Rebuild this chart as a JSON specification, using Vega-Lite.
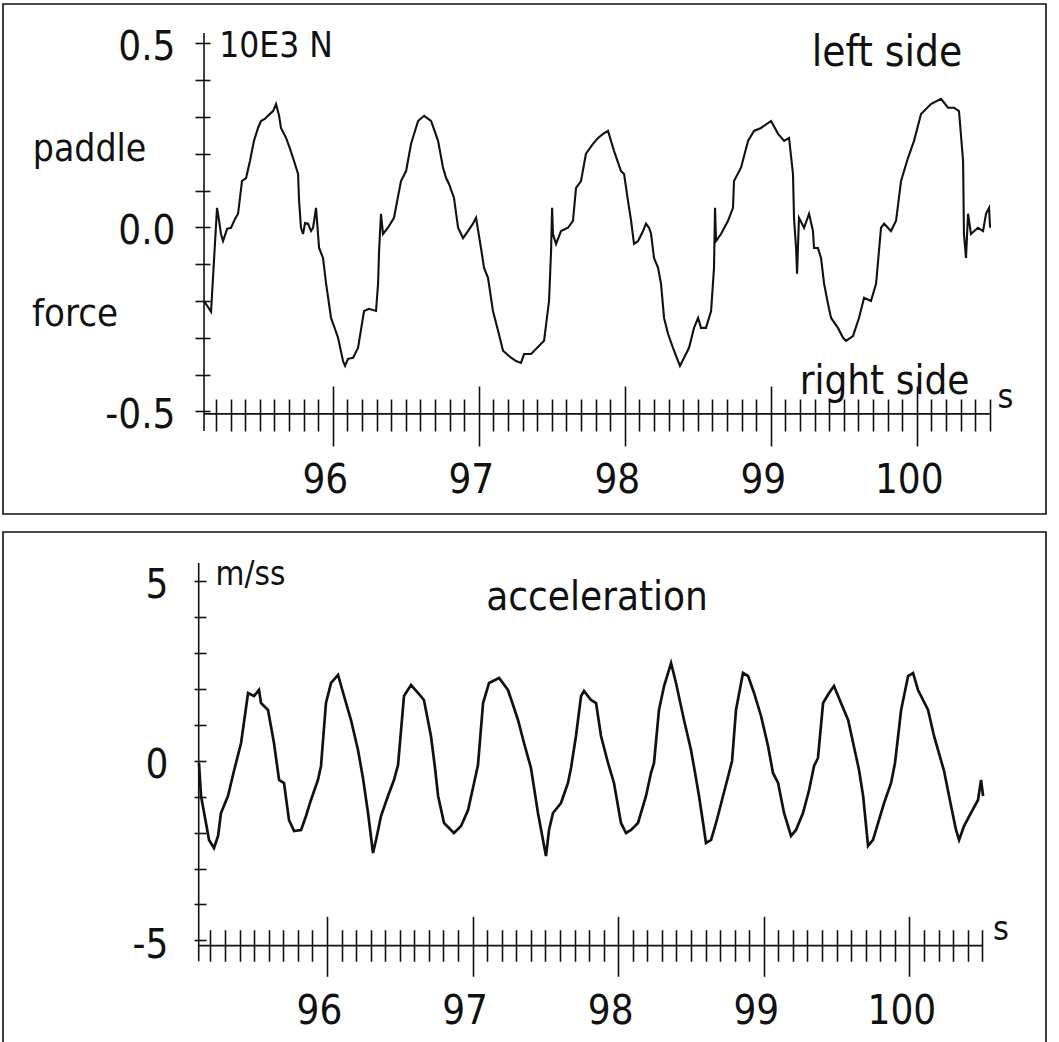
{
  "$schema": "https://vega.github.io/schema/vega-lite/v6.json",
  "padding": {"left": 2, "top": 3, "right": 0, "bottom": 0},
  "background": "white",
  "spacing": 16,
  "config": {
    "view": {"stroke": "#111", "strokeWidth": 1.6},
    "axis": {"grid": false, "title": null, "domain": false, "tickColor": "#111", "tickWidth": 1.6, "labelColor": "#111", "labelFont": "DejaVu Sans Condensed", "labelFontWeight": "normal", "labelOverlap": false, "labelFlush": false, "labelBound": false},
    "text": {"font": "DejaVu Sans Condensed", "color": "#111"}
  },
  "vconcat": [
    {
      "width": 1043, "height": 510,
      "data": {"values": [
        {"t":95.118,"f":-0.200},{"t":95.166,"f":-0.229},{"t":95.186,"f":-0.091},{"t":95.207,"f":0.053},{"t":95.221,"f":0.018},{"t":95.234,"f":-0.018},{"t":95.248,"f":-0.037},{"t":95.276,"f":-0.004},{"t":95.303,"f":-0.001},{"t":95.330,"f":0.023},{"t":95.351,"f":0.037},{"t":95.378,"f":0.126},{"t":95.406,"f":0.134},{"t":95.433,"f":0.181},{"t":95.460,"f":0.235},{"t":95.488,"f":0.270},{"t":95.508,"f":0.289},{"t":95.536,"f":0.295},{"t":95.556,"f":0.303},{"t":95.577,"f":0.311},{"t":95.591,"f":0.316},{"t":95.611,"f":0.335},{"t":95.632,"f":0.303},{"t":95.645,"f":0.270},{"t":95.680,"f":0.243},{"t":95.707,"f":0.213},{"t":95.734,"f":0.181},{"t":95.762,"f":0.145},{"t":95.769,"f":0.072},{"t":95.782,"f":-0.001},{"t":95.796,"f":-0.018},{"t":95.810,"f":0.012},{"t":95.830,"f":0.010},{"t":95.851,"f":-0.010},{"t":95.865,"f":-0.001},{"t":95.885,"f":0.053},{"t":95.906,"f":-0.056},{"t":95.933,"f":-0.083},{"t":95.954,"f":-0.153},{"t":95.988,"f":-0.246},{"t":96.015,"f":-0.276},{"t":96.036,"f":-0.300},{"t":96.070,"f":-0.363},{"t":96.084,"f":-0.376},{"t":96.104,"f":-0.357},{"t":96.139,"f":-0.354},{"t":96.173,"f":-0.327},{"t":96.214,"f":-0.227},{"t":96.248,"f":-0.221},{"t":96.296,"f":-0.227},{"t":96.310,"f":-0.153},{"t":96.317,"f":-0.064},{"t":96.330,"f":0.037},{"t":96.344,"f":-0.018},{"t":96.378,"f":-0.001},{"t":96.419,"f":0.026},{"t":96.467,"f":0.126},{"t":96.502,"f":0.153},{"t":96.536,"f":0.227},{"t":96.584,"f":0.289},{"t":96.625,"f":0.303},{"t":96.673,"f":0.289},{"t":96.721,"f":0.235},{"t":96.755,"f":0.162},{"t":96.776,"f":0.134},{"t":96.796,"f":0.118},{"t":96.830,"f":0.080},{"t":96.858,"f":-0.001},{"t":96.892,"f":-0.029},{"t":96.926,"f":-0.010},{"t":96.960,"f":0.010},{"t":96.981,"f":0.026},{"t":97.015,"f":-0.056},{"t":97.036,"f":-0.110},{"t":97.063,"f":-0.137},{"t":97.097,"f":-0.227},{"t":97.132,"f":-0.281},{"t":97.166,"f":-0.335},{"t":97.221,"f":-0.354},{"t":97.255,"f":-0.363},{"t":97.289,"f":-0.368},{"t":97.310,"f":-0.344},{"t":97.358,"f":-0.344},{"t":97.447,"f":-0.308},{"t":97.481,"f":-0.200},{"t":97.495,"f":-0.064},{"t":97.502,"f":0.053},{"t":97.508,"f":-0.018},{"t":97.529,"f":-0.045},{"t":97.563,"f":-0.010},{"t":97.611,"f":-0.001},{"t":97.645,"f":0.018},{"t":97.666,"f":0.107},{"t":97.700,"f":0.126},{"t":97.734,"f":0.200},{"t":97.782,"f":0.227},{"t":97.817,"f":0.243},{"t":97.851,"f":0.254},{"t":97.885,"f":0.262},{"t":97.926,"f":0.208},{"t":97.974,"f":0.153},{"t":97.995,"f":0.145},{"t":98.022,"f":0.072},{"t":98.043,"f":0.018},{"t":98.063,"f":-0.045},{"t":98.091,"f":-0.037},{"t":98.125,"f":-0.010},{"t":98.145,"f":0.010},{"t":98.166,"f":-0.001},{"t":98.180,"f":-0.018},{"t":98.200,"f":-0.083},{"t":98.228,"f":-0.110},{"t":98.248,"f":-0.153},{"t":98.269,"f":-0.246},{"t":98.296,"f":-0.289},{"t":98.330,"f":-0.327},{"t":98.365,"f":-0.363},{"t":98.378,"f":-0.376},{"t":98.406,"f":-0.354},{"t":98.440,"f":-0.327},{"t":98.474,"f":-0.273},{"t":98.502,"f":-0.246},{"t":98.522,"f":-0.273},{"t":98.556,"f":-0.273},{"t":98.591,"f":-0.227},{"t":98.611,"f":-0.110},{"t":98.618,"f":0.053},{"t":98.625,"f":-0.037},{"t":98.659,"f":-0.018},{"t":98.707,"f":0.018},{"t":98.741,"f":0.053},{"t":98.748,"f":0.126},{"t":98.796,"f":0.162},{"t":98.844,"f":0.235},{"t":98.885,"f":0.262},{"t":98.933,"f":0.270},{"t":99.002,"f":0.289},{"t":99.050,"f":0.254},{"t":99.091,"f":0.235},{"t":99.125,"f":0.243},{"t":99.152,"f":0.145},{"t":99.159,"f":0.026},{"t":99.173,"f":-0.056},{"t":99.180,"f":-0.126},{"t":99.193,"f":0.026},{"t":99.228,"f":-0.001},{"t":99.262,"f":0.037},{"t":99.289,"f":-0.010},{"t":99.296,"f":-0.056},{"t":99.323,"f":-0.056},{"t":99.344,"f":-0.083},{"t":99.365,"f":-0.153},{"t":99.392,"f":-0.208},{"t":99.413,"f":-0.246},{"t":99.460,"f":-0.273},{"t":99.495,"f":-0.300},{"t":99.515,"f":-0.308},{"t":99.563,"f":-0.295},{"t":99.604,"f":-0.246},{"t":99.639,"f":-0.191},{"t":99.686,"f":-0.200},{"t":99.721,"f":-0.153},{"t":99.741,"f":-0.064},{"t":99.755,"f":-0.001},{"t":99.776,"f":0.010},{"t":99.823,"f":-0.010},{"t":99.858,"f":0.018},{"t":99.892,"f":0.126},{"t":99.940,"f":0.189},{"t":99.981,"f":0.235},{"t":100.029,"f":0.308},{"t":100.097,"f":0.335},{"t":100.166,"f":0.349},{"t":100.214,"f":0.325},{"t":100.255,"f":0.325},{"t":100.289,"f":0.316},{"t":100.317,"f":0.181},{"t":100.323,"f":-0.018},{"t":100.337,"f":-0.083},{"t":100.351,"f":0.037},{"t":100.371,"f":-0.018},{"t":100.419,"f":-0.001},{"t":100.454,"f":-0.010},{"t":100.474,"f":0.037},{"t":100.495,"f":0.053},{"t":100.502,"f":-0.001}
      ]},
      "layer": [
        {
          "mark": {"type": "line", "color": "#111", "strokeWidth": 2.1},
          "encoding": {
            "x": {"field": "t", "type": "quantitative",
                  "scale": {"domain": [93.741, 100.885], "nice": false, "zero": false},
                  "axis": {"orient": "bottom", "values": [96, 97, 98, 99, 100], "format": "d", "tickSize": 60, "offset": -128, "labelPadding": 14, "labelFontSize": 40, "labelOffset": -8}},
            "y": {"field": "f", "type": "quantitative",
                  "scale": {"domain": [-0.7784, 0.6067], "nice": false, "zero": false},
                  "axis": {"orient": "left", "values": [-0.5, -0.4, -0.3, -0.2, -0.1, 0, 0.1, 0.2, 0.3, 0.4, 0.5], "tickSize": 15, "offset": -207, "labelPadding": 20, "labelFontSize": 40, "labelOffset": 4,
                           "labelExpr": "datum.value == 0.5 ? '0.5' : datum.value == 0 ? '0.0' : datum.value == -0.5 ? '-0.5' : ''"}}
          }
        },
        {
          "data": {"values": [{}]},
          "mark": {"type": "rule", "color": "#111", "strokeWidth": 1.6},
          "encoding": {
            "x": {"datum": 95.118, "axis": {"orient": "bottom", "values": [95.2,95.3,95.4,95.5,95.6,95.7,95.8,95.9,96.1,96.2,96.3,96.4,96.5,96.6,96.7,96.8,96.9,97.1,97.2,97.3,97.4,97.5,97.6,97.7,97.8,97.9,98.1,98.2,98.3,98.4,98.5,98.6,98.7,98.8,98.9,99.1,99.2,99.3,99.4,99.5,99.6,99.7,99.8,99.9,100.1,100.2,100.3,100.4,100.5], "tickSize": 32, "offset": -115, "labels": false}},
            "x2": {"datum": 100.5},
            "y": {"datum": -0.5065, "axis": null}
          }
        },
        {
          "data": {"values": [{}]},
          "mark": {"type": "rule", "color": "#111", "strokeWidth": 1.6},
          "encoding": {
            "x": {"datum": 95.118, "axis": null},
            "y": {"datum": -0.553, "axis": null},
            "y2": {"datum": 0.528}
          }
        },
        {"data": {"values": [{}]}, "mark": {"type": "text", "fontSize": 35, "align": "center", "baseline": "alphabetic"},
         "encoding": {"x": {"datum": 95.611, "axis": null}, "y": {"datum": 0.463, "axis": null}, "text": {"value": "10E3 N"}}},
        {"data": {"values": [{}]}, "mark": {"type": "text", "fontSize": 37, "align": "center", "baseline": "alphabetic"},
         "encoding": {"x": {"datum": 94.334, "axis": null}, "y": {"datum": 0.181, "axis": null}, "text": {"value": "paddle"}}},
        {"data": {"values": [{}]}, "mark": {"type": "text", "fontSize": 38, "align": "center", "baseline": "alphabetic"},
         "encoding": {"x": {"datum": 94.234, "axis": null}, "y": {"datum": -0.2675, "axis": null}, "text": {"value": "force"}}},
        {"data": {"values": [{}]}, "mark": {"type": "text", "fontSize": 42, "align": "center", "baseline": "alphabetic"},
         "encoding": {"x": {"datum": 99.796, "axis": null}, "y": {"datum": 0.4386, "axis": null}, "text": {"value": "left side"}}},
        {"data": {"values": [{}]}, "mark": {"type": "text", "fontSize": 40, "align": "center", "baseline": "alphabetic"},
         "encoding": {"x": {"datum": 99.779, "axis": null}, "y": {"datum": -0.4514, "axis": null}, "text": {"value": "right side"}}},
        {"data": {"values": [{}]}, "mark": {"type": "text", "fontSize": 34, "align": "center", "baseline": "alphabetic"},
         "encoding": {"x": {"datum": 100.608, "axis": null}, "y": {"datum": -0.4894, "axis": null}, "text": {"value": "s"}}}
      ],
      "resolve": {"axis": {"x": "independent", "y": "independent"}}
    },
    {
      "width": 1043, "height": 511,
      "data": {"values": [
        {"t":95.121,"a":-0.064},{"t":95.135,"a":-0.982},{"t":95.169,"a":-1.733},{"t":95.190,"a":-2.206},{"t":95.224,"a":-2.429},{"t":95.252,"a":-2.095},{"t":95.272,"a":-1.455},{"t":95.320,"a":-0.982},{"t":95.361,"a":-0.287},{"t":95.410,"a":0.492},{"t":95.458,"a":1.884},{"t":95.499,"a":1.800},{"t":95.533,"a":1.967},{"t":95.547,"a":1.605},{"t":95.595,"a":1.411},{"t":95.636,"a":0.492},{"t":95.671,"a":-0.537},{"t":95.705,"a":-0.620},{"t":95.739,"a":-1.650},{"t":95.774,"a":-1.956},{"t":95.822,"a":-1.928},{"t":95.856,"a":-1.539},{"t":95.890,"a":-1.093},{"t":95.938,"a":-0.537},{"t":95.959,"a":-0.147},{"t":95.993,"a":1.605},{"t":96.028,"a":2.162},{"t":96.076,"a":2.385},{"t":96.117,"a":1.800},{"t":96.165,"a":1.132},{"t":96.213,"a":0.298},{"t":96.247,"a":-0.481},{"t":96.282,"a":-1.455},{"t":96.316,"a":-2.568},{"t":96.337,"a":-2.206},{"t":96.371,"a":-1.539},{"t":96.419,"a":-0.982},{"t":96.460,"a":-0.537},{"t":96.488,"a":-0.120},{"t":96.529,"a":1.800},{"t":96.577,"a":2.106},{"t":96.625,"a":1.884},{"t":96.666,"a":1.689},{"t":96.714,"a":0.687},{"t":96.742,"a":-0.203},{"t":96.763,"a":-0.982},{"t":96.804,"a":-1.733},{"t":96.872,"a":-2.012},{"t":96.921,"a":-1.817},{"t":96.969,"a":-1.372},{"t":97.010,"a":-0.620},{"t":97.037,"a":-0.120},{"t":97.072,"a":1.605},{"t":97.113,"a":2.162},{"t":97.182,"a":2.301},{"t":97.243,"a":1.967},{"t":97.312,"a":1.132},{"t":97.353,"a":0.492},{"t":97.401,"a":-0.203},{"t":97.449,"a":-1.455},{"t":97.504,"a":-2.652},{"t":97.525,"a":-1.928},{"t":97.552,"a":-1.455},{"t":97.607,"a":-1.177},{"t":97.655,"a":-0.620},{"t":97.676,"a":-0.203},{"t":97.710,"a":0.687},{"t":97.745,"a":1.800},{"t":97.765,"a":1.939},{"t":97.813,"a":1.689},{"t":97.848,"a":1.605},{"t":97.882,"a":0.687},{"t":97.930,"a":-0.064},{"t":97.971,"a":-0.620},{"t":98.019,"a":-1.733},{"t":98.054,"a":-2.012},{"t":98.088,"a":-1.928},{"t":98.136,"a":-1.733},{"t":98.191,"a":-0.982},{"t":98.225,"a":-0.342},{"t":98.246,"a":-0.064},{"t":98.280,"a":1.411},{"t":98.315,"a":2.078},{"t":98.363,"a":2.718},{"t":98.397,"a":2.162},{"t":98.452,"a":1.132},{"t":98.500,"a":0.298},{"t":98.528,"a":-0.342},{"t":98.555,"a":-0.982},{"t":98.583,"a":-1.733},{"t":98.603,"a":-2.290},{"t":98.638,"a":-2.206},{"t":98.672,"a":-1.733},{"t":98.720,"a":-0.982},{"t":98.761,"a":-0.342},{"t":98.782,"a":-0.008},{"t":98.809,"a":1.411},{"t":98.857,"a":2.440},{"t":98.892,"a":2.357},{"t":98.933,"a":1.884},{"t":98.981,"a":1.244},{"t":99.029,"a":0.409},{"t":99.063,"a":-0.342},{"t":99.098,"a":-0.620},{"t":99.139,"a":-1.455},{"t":99.187,"a":-2.095},{"t":99.221,"a":-1.928},{"t":99.269,"a":-1.455},{"t":99.311,"a":-0.815},{"t":99.345,"a":-0.147},{"t":99.372,"a":0.075},{"t":99.407,"a":1.605},{"t":99.448,"a":1.884},{"t":99.482,"a":2.078},{"t":99.530,"a":1.605},{"t":99.579,"a":1.132},{"t":99.633,"a":0.131},{"t":99.654,"a":-0.259},{"t":99.682,"a":-0.982},{"t":99.716,"a":-2.373},{"t":99.750,"a":-2.206},{"t":99.785,"a":-1.733},{"t":99.826,"a":-1.177},{"t":99.874,"a":-0.620},{"t":99.901,"a":-0.064},{"t":99.943,"a":1.411},{"t":99.991,"a":2.357},{"t":100.025,"a":2.440},{"t":100.059,"a":1.967},{"t":100.128,"a":1.411},{"t":100.169,"a":0.687},{"t":100.238,"a":-0.287},{"t":100.286,"a":-1.260},{"t":100.320,"a":-1.928},{"t":100.341,"a":-2.206},{"t":100.375,"a":-1.817},{"t":100.423,"a":-1.455},{"t":100.471,"a":-1.093},{"t":100.492,"a":-0.537},{"t":100.506,"a":-0.982}
      ]},
      "layer": [
        {
          "mark": {"type": "line", "color": "#111", "strokeWidth": 2.7},
          "encoding": {
            "x": {"field": "t", "type": "quantitative",
                  "scale": {"domain": [93.775, 100.938], "nice": false, "zero": false},
                  "axis": {"orient": "bottom", "values": [96, 97, 98, 99, 100], "format": "d", "tickSize": 60, "offset": -126.7, "labelPadding": 15, "labelFontSize": 40, "labelOffset": -8}},
            "y": {"field": "a", "type": "quantitative",
                  "scale": {"domain": [-7.855, 6.363], "nice": false, "zero": false},
                  "axis": {"orient": "left", "values": [-5, -4, -3, -2, -1, 0, 1, 2, 3, 4, 5], "tickSize": 12, "offset": -203, "labelPadding": 26, "labelFontSize": 40, "labelOffset": 5,
                           "labelExpr": "datum.value == 5 ? '5' : datum.value == 0 ? '0' : datum.value == -5 ? '-5' : ''"}}
          }
        },
        {
          "data": {"values": [{}]},
          "mark": {"type": "rule", "color": "#111", "strokeWidth": 1.6},
          "encoding": {
            "x": {"datum": 95.119, "axis": {"orient": "bottom", "values": [95.2,95.3,95.4,95.5,95.6,95.7,95.8,95.9,96.1,96.2,96.3,96.4,96.5,96.6,96.7,96.8,96.9,97.1,97.2,97.3,97.4,97.5,97.6,97.7,97.8,97.9,98.1,98.2,98.3,98.4,98.5,98.6,98.7,98.8,98.9,99.1,99.2,99.3,99.4,99.5,99.6,99.7,99.8,99.9,100.1,100.2,100.3,100.4,100.5], "tickSize": 31.6, "offset": -113.3, "labels": false}},
            "x2": {"datum": 100.5},
            "y": {"datum": -5.147, "axis": null}
          }
        },
        {
          "data": {"values": [{}]},
          "mark": {"type": "rule", "color": "#111", "strokeWidth": 1.6},
          "encoding": {
            "x": {"datum": 95.119, "axis": null},
            "y": {"datum": -5.582, "axis": null},
            "y2": {"datum": 5.501}
          }
        },
        {"data": {"values": [{}]}, "mark": {"type": "text", "fontSize": 33, "align": "center", "baseline": "alphabetic"},
         "encoding": {"x": {"datum": 95.475, "axis": null}, "y": {"datum": 4.897, "axis": null}, "text": {"value": "m/ss"}}},
        {"data": {"values": [{}]}, "mark": {"type": "text", "fontSize": 40, "align": "center", "baseline": "alphabetic"},
         "encoding": {"x": {"datum": 97.855, "axis": null}, "y": {"datum": 4.201, "axis": null}, "text": {"value": "acceleration"}}},
        {"data": {"values": [{}]}, "mark": {"type": "text", "fontSize": 34, "align": "center", "baseline": "alphabetic"},
         "encoding": {"x": {"datum": 100.629, "axis": null}, "y": {"datum": -4.98, "axis": null}, "text": {"value": "s"}}}
      ],
      "resolve": {"axis": {"x": "independent", "y": "independent"}}
    }
  ]
}
